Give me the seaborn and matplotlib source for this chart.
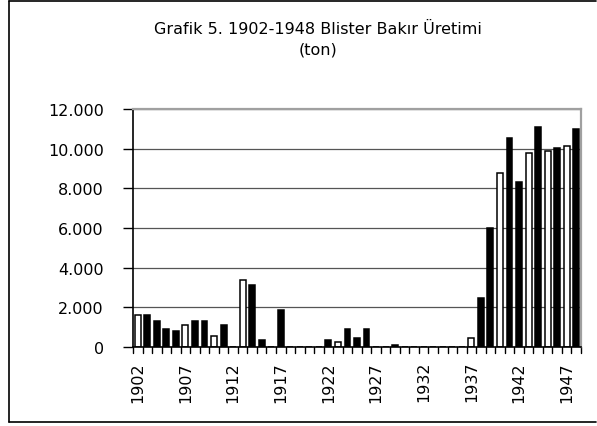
import matplotlib
matplotlib.use("Agg")
import matplotlib.pyplot as plt
import seaborn as sns
import pandas as pd
from matplotlib.lines import Line2D

years = list(range(1902, 1949))
production = [1600, 1600, 1300, 900, 800, 1100, 1300, 1300, 550, 1100,
              0, 3400, 3150, 350, 0, 1850, 0, 0, 0, 0,
              350, 250, 900, 450, 900, 0, 0, 120, 0, 0,
              0, 0, 0, 0, 0, 450, 2450, 6000, 8750, 10550,
              8300, 9800, 11100, 9900, 10050, 10150, 11000]
kind = ["W", "B", "B", "B", "B", "W", "B", "B", "W", "B",
        "B", "W", "B", "B", "B", "B", "B", "B", "B", "B",
        "B", "W", "B", "B", "B", "B", "B", "B", "B", "B",
        "B", "B", "B", "B", "B", "W", "B", "B", "W", "B",
        "B", "W", "B", "W", "B", "W", "B"]
y_ticks = [0, 2000, 4000, 6000, 8000, 10000, 12000]
y_tick_labels = ["0", "2.000", "4.000", "6.000", "8.000", "10.000", "12.000"]
x_label_years = [1902, 1907, 1912, 1917, 1922, 1927, 1932, 1937, 1942, 1947]
title = "Grafik 5. 1902-1948 Blister Bakır Üretimi\n(ton)"

df = pd.DataFrame({"year": [str(y) for y in years],
                   "value": production,
                   "kind": kind})

sns.set_style("white")
plt.rcParams["font.family"] = ["DejaVu Sans"]
plt.rcParams["text.color"] = "black"
plt.rcParams["xtick.color"] = "black"
plt.rcParams["ytick.color"] = "black"

W, H = 597, 427
fig = plt.figure(figsize=(W / 100, H / 100), dpi=100)
ax = fig.add_axes([133 / W, 1 - 348 / H, (581 - 133) / W, (348 - 110) / H])

sns.barplot(data=df, x="year", y="value", hue="kind",
            order=[str(y) for y in years],
            palette={"W": "white", "B": "black"},
            edgecolor="black", linewidth=1.1, width=0.62,
            dodge=False, legend=False, ax=ax)

ax.set_xlim(-0.5, len(years) - 0.5)
ax.set_ylim(0, 12000)
ax.set_yticks(y_ticks)
ax.set_yticklabels(y_tick_labels, fontsize=11.5, color="black")
for y in y_ticks[1:]:
    ax.axhline(y, color="#555555", linewidth=0.9, zorder=0)

# x tick labels every 5 years, tick marks between categories
ax.set_xticks([years.index(y) for y in x_label_years])
ax.set_xticklabels([str(y) for y in x_label_years], rotation=90, fontsize=11.5, color="black")
ax.tick_params(axis="x", length=0, pad=10)
ax.tick_params(axis="y", length=7, width=1, color="black", direction="out", pad=14, left=True)
for i in range(len(years) + 1):
    ax.add_line(Line2D([i - 0.5, i - 0.5], [0, -0.025], transform=ax.get_xaxis_transform(),
                       color="black", linewidth=1, clip_on=False))

ax.set_xlabel("")
ax.set_ylabel("")
for side in ["left", "bottom"]:
    ax.spines[side].set_color("black")
    ax.spines[side].set_linewidth(1.2)
for side in ["top", "right"]:
    ax.spines[side].set_color("#a0a0a0")
    ax.spines[side].set_linewidth(1.6)
    ax.spines[side].set_visible(True)

fig.text(318 / W, 1 - 40 / H, title, ha="center", va="center",
         fontsize=11.5, linespacing=1.45, color="black")

# outer border
for xs, ys in [([9, 9], [2, 423]), ([9, 596], [2, 2]), ([9, 596], [423, 423])]:
    fig.add_artist(Line2D([x / W for x in xs], [1 - y / H for y in ys],
                          color="black", linewidth=1.2))

fig.savefig("out.png", dpi=100)
